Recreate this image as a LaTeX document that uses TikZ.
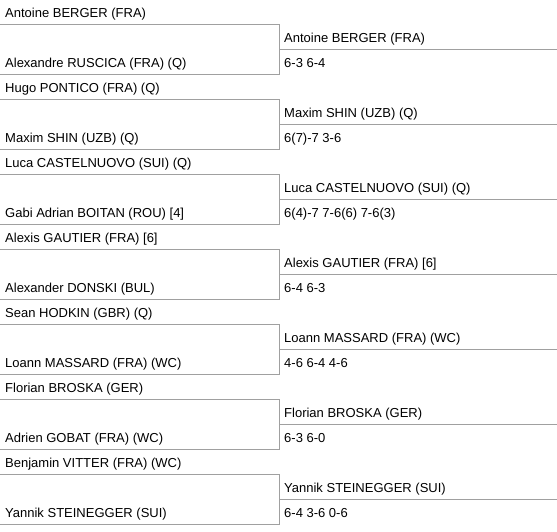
\documentclass[tikz,border=0pt]{standalone}
\usepackage{fontspec}
\setmainfont{Liberation Sans}
\usepackage{tikz}
\usetikzlibrary{positioning}
\definecolor{linegray}{RGB}{160,160,160}
\tikzset{player/.style={anchor=base west,inner sep=0pt,font=\fontsize{13pt}{15pt}\selectfont}}
\tikzset{bracket/.style={draw=linegray,line width=1pt}}

\begin{document}
\begin{tikzpicture}[x=1pt,y=-1pt]
\useasboundingbox (0,0) rectangle (557,531);
% match 1
\node[player] (a1) at (5,17) {Antoine BERGER (FRA)};
\node[player] (b1) at (5,67) {Alexandre RUSCICA (FRA) (Q)};
\node[player] (w1) at (284,42) {Antoine BERGER (FRA)};
\node[player] (s1) at (284,67) {6-3 6-4};
\draw[bracket] (0,24) -- (279,24) -- (279,74) -- (0,74);
\draw[bracket] (279,49) -- (557,49);
% match 2
\node[player] (a2) at (5,92) {Hugo PONTICO (FRA) (Q)};
\node[player] (b2) at (5,142) {Maxim SHIN (UZB) (Q)};
\node[player] (w2) at (284,117) {Maxim SHIN (UZB) (Q)};
\node[player] (s2) at (284,142) {6(7)-7 3-6};
\draw[bracket] (0,99) -- (279,99) -- (279,149) -- (0,149);
\draw[bracket] (279,124) -- (557,124);
% match 3
\node[player] (a3) at (5,167) {Luca CASTELNUOVO (SUI) (Q)};
\node[player] (b3) at (5,217) {Gabi Adrian BOITAN (ROU) [4]};
\node[player] (w3) at (284,192) {Luca CASTELNUOVO (SUI) (Q)};
\node[player] (s3) at (284,217) {6(4)-7 7-6(6) 7-6(3)};
\draw[bracket] (0,174) -- (279,174) -- (279,224) -- (0,224);
\draw[bracket] (279,199) -- (557,199);
% match 4
\node[player] (a4) at (5,242) {Alexis GAUTIER (FRA) [6]};
\node[player] (b4) at (5,292) {Alexander DONSKI (BUL)};
\node[player] (w4) at (284,267) {Alexis GAUTIER (FRA) [6]};
\node[player] (s4) at (284,292) {6-4 6-3};
\draw[bracket] (0,249) -- (279,249) -- (279,299) -- (0,299);
\draw[bracket] (279,274) -- (557,274);
% match 5
\node[player] (a5) at (5,317) {Sean HODKIN (GBR) (Q)};
\node[player] (b5) at (5,367) {Loann MASSARD (FRA) (WC)};
\node[player] (w5) at (284,342) {Loann MASSARD (FRA) (WC)};
\node[player] (s5) at (284,367) {4-6 6-4 4-6};
\draw[bracket] (0,324) -- (279,324) -- (279,374) -- (0,374);
\draw[bracket] (279,349) -- (557,349);
% match 6
\node[player] (a6) at (5,392) {Florian BROSKA (GER)};
\node[player] (b6) at (5,442) {Adrien GOBAT (FRA) (WC)};
\node[player] (w6) at (284,417) {Florian BROSKA (GER)};
\node[player] (s6) at (284,442) {6-3 6-0};
\draw[bracket] (0,399) -- (279,399) -- (279,449) -- (0,449);
\draw[bracket] (279,424) -- (557,424);
% match 7
\node[player] (a7) at (5,467) {Benjamin VITTER (FRA) (WC)};
\node[player] (b7) at (5,517) {Yannik STEINEGGER (SUI)};
\node[player] (w7) at (284,492) {Yannik STEINEGGER (SUI)};
\node[player] (s7) at (284,517) {6-4 3-6 0-6};
\draw[bracket] (0,474) -- (279,474) -- (279,524) -- (0,524);
\draw[bracket] (279,499) -- (557,499);
\end{tikzpicture}
\end{document}
